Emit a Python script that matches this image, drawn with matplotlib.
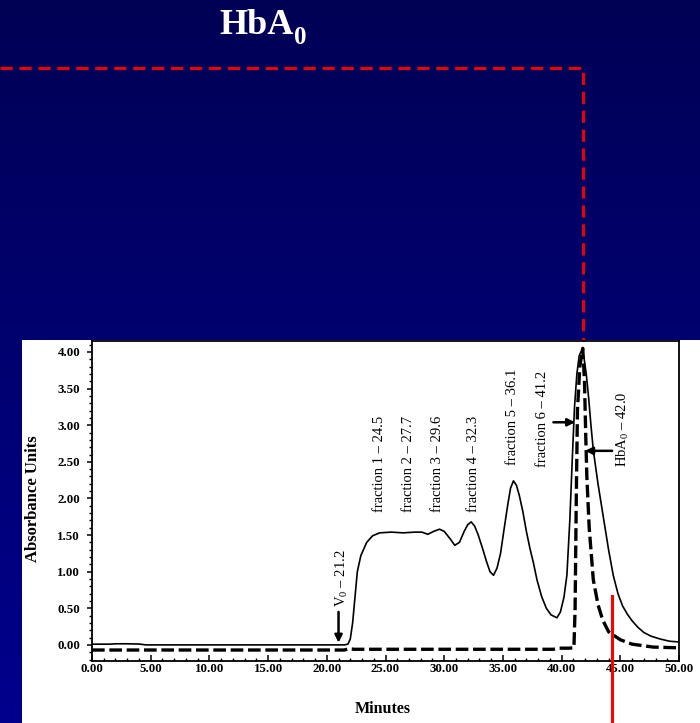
import numpy as np
import matplotlib
matplotlib.use("Agg")
import matplotlib.pyplot as plt
from matplotlib.ticker import MultipleLocator, FormatStrFormatter
from matplotlib.patches import Rectangle
from matplotlib.lines import Line2D
import matplotlib.transforms as mtransforms

plt.rcParams['font.family'] = ['Liberation Serif', 'DejaVu Serif']
plt.rcParams['mathtext.fontset'] = 'custom'
plt.rcParams['mathtext.rm'] = 'Liberation Serif'
plt.rcParams['mathtext.it'] = 'Liberation Serif:italic'
plt.rcParams['mathtext.bf'] = 'Liberation Serif:bold'

# ---------------- data ----------------
sample_time = [0.0, 1.5, 2.0, 3.0, 4.0, 4.6, 10.0, 15.0, 20.0, 21.5, 21.8, 22.0, 22.2,
               22.4, 22.6, 22.9, 23.4, 23.9, 24.5, 25.5, 26.5, 27.5, 28.1, 28.6, 29.1,
               29.6, 30.0, 30.5, 30.9, 31.3, 31.7, 32.0, 32.3, 32.6, 32.9, 33.3, 33.6,
               33.9, 34.2, 34.5, 34.8, 35.1, 35.4, 35.65, 35.9, 36.15, 36.4, 36.7, 37.0,
               37.3, 37.6, 37.9, 38.3, 38.7, 39.1, 39.6, 39.9, 40.2, 40.45, 40.7, 40.9,
               41.1, 41.3, 41.5, 41.7, 41.9, 42.1, 42.3, 42.5, 42.7, 43.1, 43.5, 44.0,
               44.4, 44.8, 45.2, 45.6, 46.0, 46.5, 47.0, 47.6, 48.4, 49.2, 50.0]
sample_abs = [0.01, 0.01, 0.015, 0.015, 0.012, 0.0, 0.0, 0.0, 0.0, 0.0, 0.01, 0.08, 0.3,
              0.65, 1.0, 1.22, 1.40, 1.49, 1.53, 1.54, 1.53, 1.54, 1.54, 1.51, 1.55,
              1.58, 1.55, 1.45, 1.36, 1.40, 1.55, 1.64, 1.68, 1.62, 1.50, 1.30, 1.14,
              1.00, 0.95, 1.05, 1.25, 1.58, 1.90, 2.14, 2.24, 2.18, 2.04, 1.82, 1.55,
              1.32, 1.12, 0.89, 0.66, 0.50, 0.41, 0.37, 0.45, 0.65, 0.95, 1.7, 2.5,
              3.25, 3.7, 3.95, 4.02, 3.93, 3.7, 3.38, 3.0, 2.66, 2.2, 1.8, 1.3,
              0.95, 0.70, 0.53, 0.42, 0.33, 0.24, 0.17, 0.12, 0.08, 0.05, 0.04]

hba0_time = [0.0, 21.5, 21.9, 22.3, 39.3, 39.8, 40.6, 41.05, 41.15, 41.25, 41.35, 41.55,
             41.8, 41.95, 42.05, 42.15, 42.35, 42.7, 43.1, 43.5, 44.0, 45.0, 46.0, 47.8, 50.0]
hba0_abs = [-0.07, -0.07, -0.05, -0.06, -0.06, -0.045, -0.045, -0.04, 0.5, 2.0, 3.2, 3.8,
            4.05, 3.6, 2.9, 2.3, 1.6, 0.89, 0.55, 0.34, 0.18, 0.07, 0.01, -0.03, -0.04]

peak_labels = ["fraction 1 \u2013 24.5", "fraction 2 \u2013 27.7", "fraction 3 \u2013 29.6",
               "fraction 4 \u2013 32.3", "fraction 5 \u2013 36.1", "fraction 6 \u2013 41.2",
               "HbA$_0$ \u2013 42.0"]
peak_label_x = [24.45, 26.95, 29.45, 32.5, 35.8, 38.4, 45.2]
peak_label_y = [1.81, 1.81, 1.81, 1.81, 2.46, 2.43, 2.43]

v0_label = "V$_0$ \u2013 21.2"
v0_time = 21.0
cut_time = 44.3

x_tick_step = 5
y_tick_step = 0.5

# ---------------- figure ----------------
W, H = 700, 723
fig = plt.figure(figsize=(W / 100, H / 100), dpi=100)

# slide background gradient
bg = fig.add_axes([0, 0, 1, 1], zorder=-10)
g = np.linspace(0, 1, 256)[:, None]
img = np.zeros((256, 1, 3))
img[..., 2] = 0.333 + 0.22 * g
bg.imshow(img, aspect='auto', extent=[0, 1, 0, 1], origin='upper')
bg.set_axis_off()

# white panel
fig.patches.append(Rectangle((22 / W, 0), 1 - 22 / W, (H - 340) / H,
                             transform=fig.transFigure, facecolor='white',
                             edgecolor='none', zorder=-5))

ax = fig.add_axes([92 / W, (H - 661) / H, (679 - 92) / W, (661 - 341) / H])
ax.set_facecolor('white')
ax.set_xlim(0, 50)
ax.set_ylim(-0.22, 4.15)

ax.plot(sample_time, sample_abs, color='black', lw=1.2, zorder=3)
ax.plot(hba0_time, hba0_abs, color='black', lw=2.4, linestyle=(0, (3.8, 1.4)), zorder=3)

ax.xaxis.set_major_locator(MultipleLocator(x_tick_step))
ax.xaxis.set_minor_locator(MultipleLocator(1))
ax.yaxis.set_major_locator(MultipleLocator(y_tick_step))
ax.yaxis.set_minor_locator(MultipleLocator(0.1))
ax.xaxis.set_major_formatter(FormatStrFormatter('%.2f'))
ax.yaxis.set_major_formatter(FormatStrFormatter('%.2f'))
ax.tick_params(axis='x', which='major', direction='in', length=4, width=1.1, pad=1.5,
               labelsize=9.3)
ax.tick_params(axis='x', which='minor', direction='in', length=2.5, width=1.0)
ax.tick_params(axis='y', which='major', direction='out', length=3.5, width=1.1, pad=5,
               labelsize=9.3)
ax.tick_params(axis='y', which='minor', direction='out', length=2, width=1.0)
for lab in ax.get_xticklabels() + ax.get_yticklabels():
    lab.set_fontweight('bold')
for s in ax.spines.values():
    s.set_linewidth(1.3)
    s.set_color('black')

# annotations
for lab, x, y in zip(peak_labels, peak_label_x, peak_label_y):
    ax.text(x, y, lab, rotation=90, ha='center', va='bottom', fontsize=10.5)
ax.text(v0_time + 0.25, 0.52, v0_label, rotation=90, ha='center', va='bottom', fontsize=10.5)

arrow_kw = dict(arrowstyle='-|>', color='black', lw=1.8, mutation_scale=11,
                shrinkA=0, shrinkB=0)
ax.annotate('', xy=(v0_time, 0.03), xytext=(v0_time, 0.45), arrowprops=arrow_kw)
ax.annotate('', xy=(41.15, 3.04), xytext=(39.3, 3.04), arrowprops=arrow_kw)
ax.annotate('', xy=(42.0, 2.65), xytext=(44.3, 2.65), arrowprops=arrow_kw)

# axis labels
fig.text(33 / W, 1 - 499 / H, "Absorbance Units", rotation=90, ha='center', va='center',
         fontsize=12, fontweight='bold')
fig.text(383 / W, 1 - 713 / H, "Minutes", ha='center', va='baseline',
         fontsize=11.5, fontweight='bold')

# slide title (HbA with lowered subscript 0)
t_main = fig.text(219 / W, 1 - 34 / H, "HbA", ha='left', va='baseline',
                  fontsize=26, fontweight='bold', color='white')
renderer = fig.canvas.get_renderer()
bb = t_main.get_window_extent(renderer)
fig.text((bb.x1 + 0.5) / W, 1 - 44 / H, "0", ha='left', va='baseline',
         fontsize=18, fontweight='bold', color='white')

# red dashed guide to the HbA0 peak
peak_t = hba0_time[int(np.argmax(hba0_abs))]
px = ax.transData.transform((peak_t, 0))[0] / fig.bbox.width
yh = 1 - 68 / H
fig.lines.append(Line2D([0, px, px], [yh, yh, (H - 341) / H], transform=fig.transFigure,
                        color='#ee0000', lw=2.2, linestyle=(0, (4, 2.2)), zorder=-4))

# red cut line
bt = mtransforms.blended_transform_factory(ax.transData, fig.transFigure)
ax.add_line(Line2D([cut_time, cut_time], [0, (H - 596) / H], transform=bt,
                   color='#ff0000', lw=2.2, clip_on=False, zorder=10))

fig.savefig('out.png', dpi=100)
